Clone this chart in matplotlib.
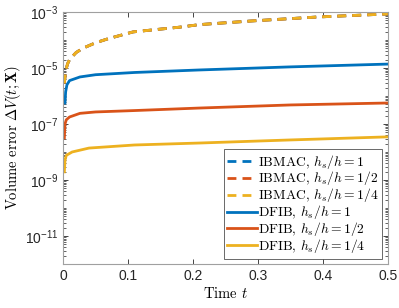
import numpy as np
import matplotlib
matplotlib.use("Agg")
import matplotlib.pyplot as plt
from matplotlib.ticker import FixedLocator, FixedFormatter, NullFormatter

# **********************************************************************************************************************
# Data (log10 of volume error)
# **********************************************************************************************************************

t_ibmac = [0.002, 0.004, 0.007, 0.01, 0.02, 0.03, 0.05, 0.07, 0.108, 0.18, 0.21, 0.29, 0.39, 0.5]
log_ibmac = [-5.55, -5.1, -4.85, -4.7, -4.45, -4.3, -4.1, -3.95, -3.71, -3.54, -3.45, -3.32, -3.18, -3.07]

t_dfib_1 = [0.003, 0.004, 0.006, 0.01, 0.026, 0.05, 0.11, 0.21, 0.35, 0.5]
log_dfib_1 = [-6.25, -5.85, -5.6, -5.45, -5.32, -5.24, -5.16, -5.07, -4.96, -4.86]

t_dfib_2 = [0.002, 0.003, 0.005, 0.01, 0.026, 0.05, 0.11, 0.21, 0.35, 0.5]
log_dfib_2 = [-7.5, -7.0, -6.85, -6.75, -6.62, -6.57, -6.52, -6.43, -6.32, -6.25]

t_dfib_4 = [0.002, 0.003, 0.005, 0.014, 0.04, 0.11, 0.21, 0.35, 0.5]
log_dfib_4 = [-8.71, -8.3, -8.12, -8.0, -7.86, -7.75, -7.68, -7.57, -7.46]

colors = ['#0072BD', '#D95319', '#EDB120']
ratios = ['1', '1/2', '1/4']
label_exps = [-11, -9, -7, -5, -3]

# **********************************************************************************************************************
# Plot
# **********************************************************************************************************************

plt.rcParams['mathtext.fontset'] = 'cm'
plt.rcParams['font.family'] = ['Liberation Sans', 'DejaVu Sans']

fig = plt.figure(figsize=(3.99, 3.08), dpi=100)
ax = fig.add_axes([0.158, 0.143, 0.814, 0.818])

ibmac_y = 10 ** np.array(log_ibmac)
for c, r in zip(colors, ratios):
    ax.plot(t_ibmac, ibmac_y, color=c, lw=2, ls=(0, (3.2, 2.2)),
            label=r'IBMAC, $h_s/h=' + r + '$')

dfib = [(t_dfib_1, log_dfib_1), (t_dfib_2, log_dfib_2), (t_dfib_4, log_dfib_4)]
for (t, ly), c, r in zip(dfib, colors, ratios):
    ax.plot(t, 10 ** np.array(ly), color=c, lw=2, label=r'DFIB, $h_s/h=' + r + '$')

ax.set_yscale('log')
ax.set_xlim(0, 0.5)
ax.set_ylim(1e-12, 1e-3)

minor = []
for e in range(-12, -3):
    for m in range(1, 10):
        if m == 1 and e in label_exps:
            continue
        minor.append(m * 10.0 ** e)
ax.yaxis.set_major_locator(FixedLocator([10.0 ** e for e in label_exps]))
ax.yaxis.set_major_formatter(FixedFormatter([r'$\mathregular{10^{%d}}$' % e for e in label_exps]))
ax.yaxis.set_minor_locator(FixedLocator(minor))
ax.yaxis.set_minor_formatter(NullFormatter())
ax.set_xticks([0, 0.1, 0.2, 0.3, 0.4, 0.5])
ax.set_xticklabels(['0', '0.1', '0.2', '0.3', '0.4', '0.5'])

ax.tick_params(which='both', direction='in', top=True, right=True, colors='#262626',
               labelsize=10, labelcolor='#262626')
ax.tick_params(which='major', length=3.5, width=0.6)
ax.tick_params(which='minor', length=2, width=0.5)
for s in ax.spines.values():
    s.set_color('#a0a0a0')
    s.set_linewidth(0.8)

ax.set_xlabel(r'Time $t$', family='cmr10', fontsize=10.5, labelpad=2)
ax.set_ylabel(r'Volume error $\Delta V(t;\mathbf{X})$', family='cmr10', fontsize=10.5, labelpad=1)

leg = ax.legend(loc='lower right', prop={'family': 'cmr10', 'size': 9.8}, frameon=True,
                fancybox=False, edgecolor='#262626', handlelength=2.2, handletextpad=0.1,
                labelspacing=-0.08, borderpad=0.25, borderaxespad=0.4)
leg.get_frame().set_linewidth(0.6)

fig.savefig('out.png', dpi=100)
